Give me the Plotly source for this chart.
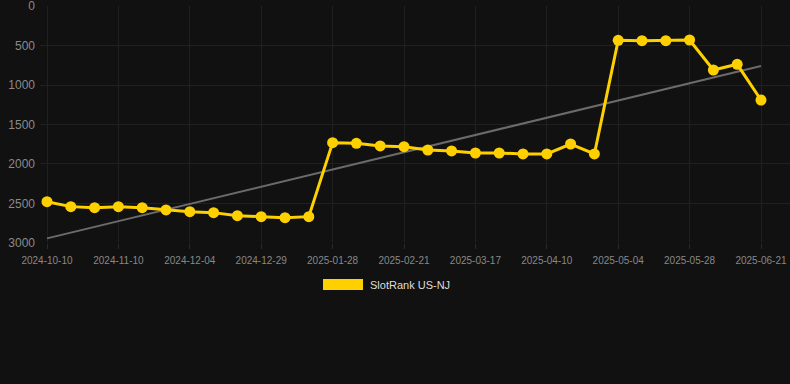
import numpy as np
import plotly.graph_objects as go

dates = [
    "2024-10-10", "2024-10-20", "2024-10-31", "2024-11-10", "2024-11-18", "2024-11-26",
    "2024-12-04", "2024-12-12", "2024-12-20", "2024-12-29", "2025-01-08", "2025-01-18",
    "2025-01-28", "2025-02-05", "2025-02-13", "2025-02-21", "2025-03-01", "2025-03-09",
    "2025-03-17", "2025-03-25", "2025-04-02", "2025-04-10", "2025-04-18", "2025-04-26",
    "2025-05-04", "2025-05-12", "2025-05-20", "2025-05-28", "2025-06-05", "2025-06-13",
    "2025-06-21",
]
ranks = [
    2477, 2540, 2553, 2540, 2553, 2582, 2604, 2616, 2654, 2667, 2680, 2667,
    1730, 1738, 1772, 1781, 1823, 1835, 1861, 1861, 1873, 1873, 1747, 1873,
    434, 439, 439, 430, 810, 738, 1190,
]
tick_labels = dates[::3]
y_ticks = [0, 500, 1000, 1500, 2000, 2500, 3000]
series_name = "SlotRank US-NJ"

W, H = 790, 384
left, right_px, top, bottom_px = 40, 790, 6, 243
pw, ph = right_px - left, bottom_px - top

idx = np.arange(len(ranks))
slope, intercept = np.polyfit(idx, ranks, 1)
trend = [intercept + slope * 0, intercept + slope * (len(ranks) - 1)]

fig = go.Figure()
fig.add_trace(go.Scatter(
    x=[dates[0], dates[-1]], y=trend, mode="lines",
    line=dict(color="#6b6b6b", width=2), hoverinfo="skip", showlegend=False,
))
fig.add_trace(go.Scatter(
    x=dates, y=ranks, mode="lines+markers", name=series_name,
    line=dict(color="#FFD000", width=3),
    marker=dict(color="#FFD000", size=11),
    showlegend=False,
))


def px_x(x):
    return (x - left) / pw


def px_y(y):
    return (bottom_px - y) / ph


fig.add_shape(type="rect", xref="paper", yref="paper",
              x0=px_x(323), x1=px_x(363), y0=px_y(290), y1=px_y(279),
              fillcolor="#FFD000", line=dict(width=0))
fig.add_annotation(xref="paper", yref="paper", x=px_x(368), y=px_y(284.5),
                   xanchor="left", yanchor="middle", showarrow=False,
                   text=series_name, font=dict(size=11, color="#dddddd"))

ppc = (761 - 47) / 30.0
x0 = -(47 - left) / ppc
x1 = 30 + (right_px - 761) / ppc

fig.update_layout(
    width=W, height=H,
    paper_bgcolor="#111111", plot_bgcolor="#111111",
    margin=dict(l=left, r=W - right_px, t=top, b=H - bottom_px, pad=0),
    font=dict(family="Liberation Sans, Arial, sans-serif", color="#888888"),
    showlegend=False,
    xaxis=dict(
        type="category", categoryorder="array", categoryarray=dates,
        range=[x0, x1], tickmode="array", tickvals=tick_labels, ticktext=tick_labels,
        showgrid=True, gridcolor="#202020", gridwidth=1,
        ticks="outside", ticklen=5, tickcolor="#2a2a2a", ticklabelstandoff=3,
        tickfont=dict(size=10, color="#888888"), zeroline=False, showline=False,
        ticklabeloverflow="allow",
    ),
    yaxis=dict(
        range=[3000.5, -0.5], tickmode="array", tickvals=y_ticks,
        ticktext=[str(v) for v in y_ticks],
        showgrid=True, gridcolor="#202020", gridwidth=1,
        tickfont=dict(size=12, color="#8a8a8a"), zeroline=False, showline=False,
        ticks="", ticklabelstandoff=4, ticklabeloverflow="allow",
    ),
)

fig.write_html(
    "out.html",
    config={"displayModeBar": False},
    post_script="document.body.style.margin='0';document.body.style.background='#111111';",
)
